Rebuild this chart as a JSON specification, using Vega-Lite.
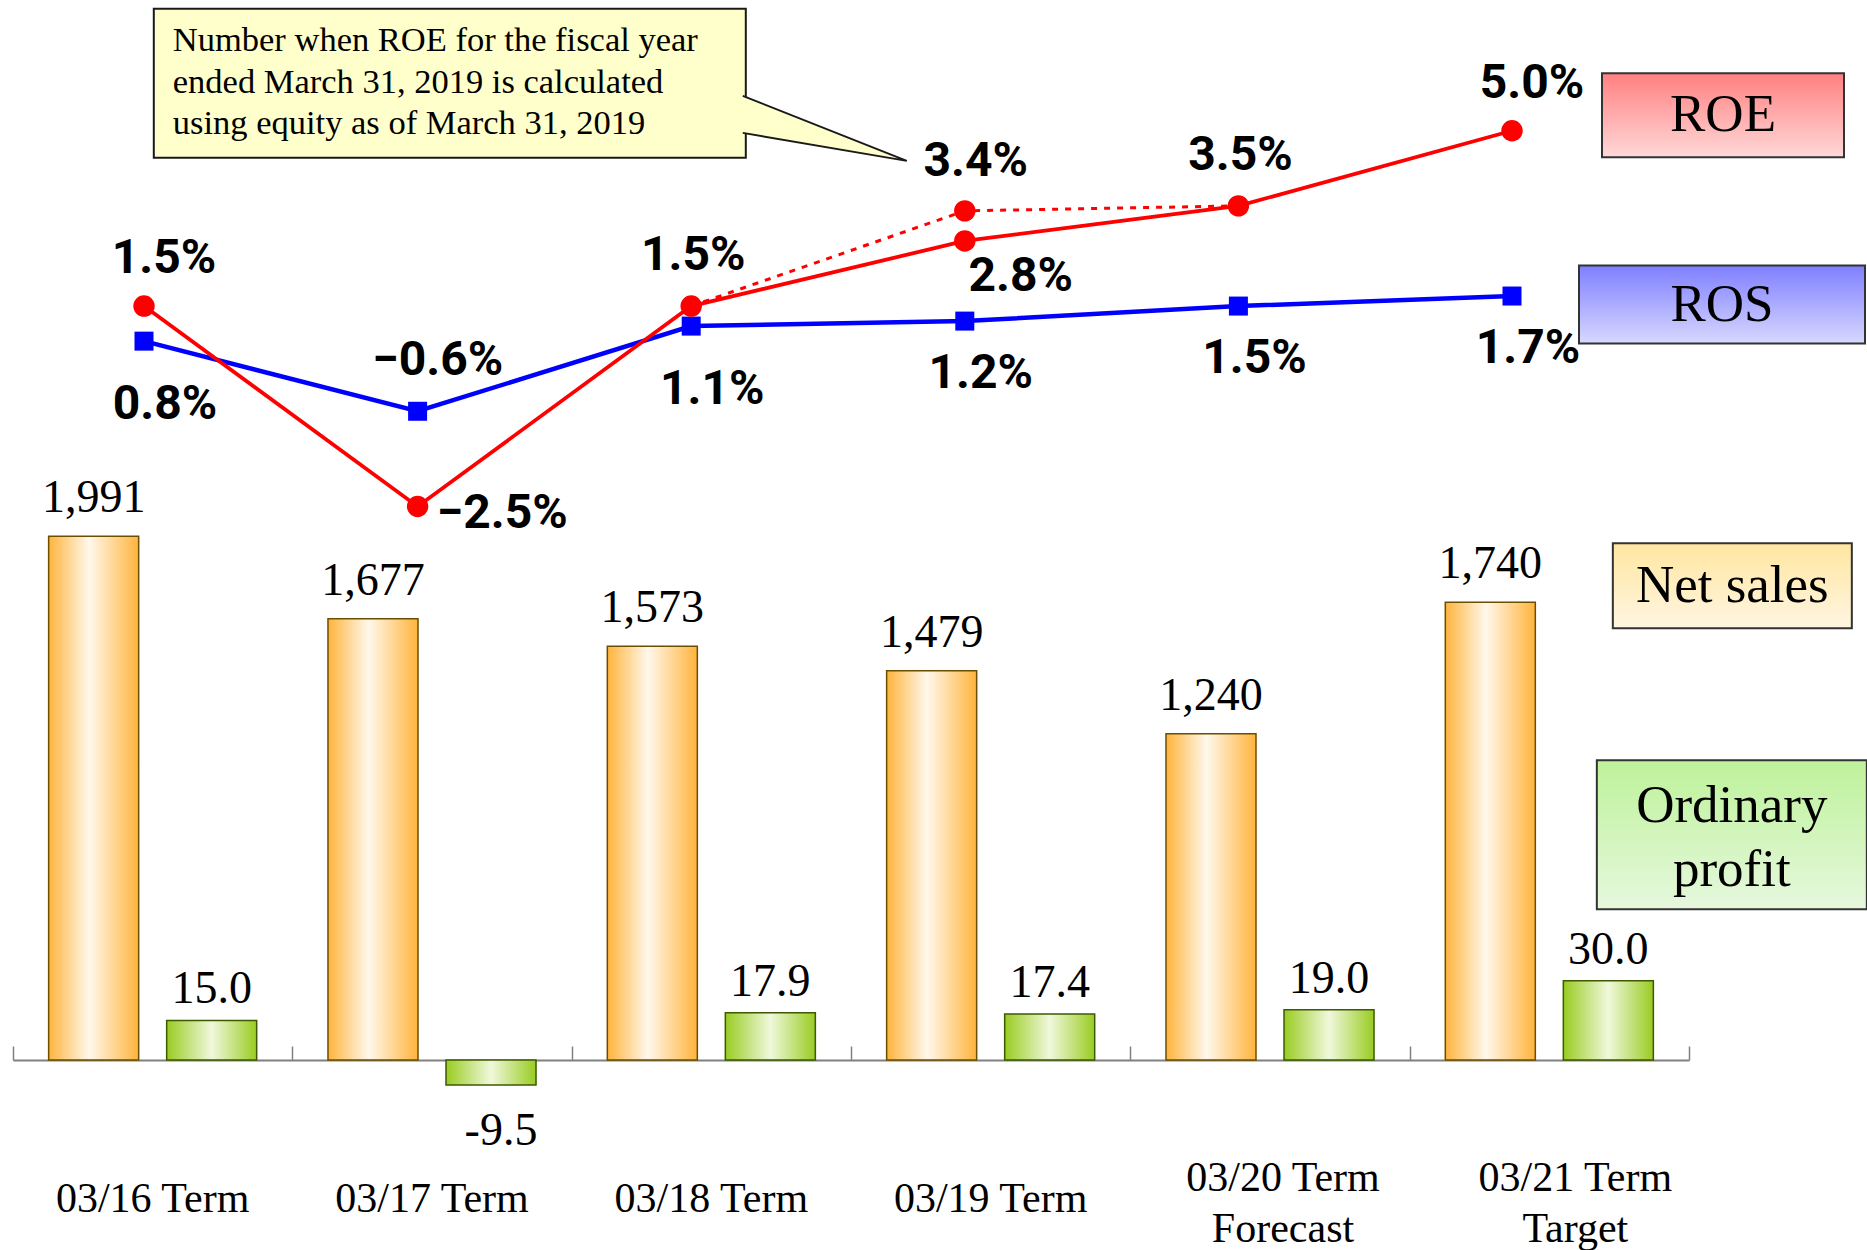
{
  "$schema": "https://vega.github.io/schema/vega-lite/v6.json",
  "width": 1867,
  "height": 1250,
  "autosize": {"type": "none"},
  "padding": 0,
  "background": "white",
  "config": {"view": {"stroke": null}, "font": "Liberation Serif"},
  "datasets": {
    "results": [
      {"term": "03/16 Term", "net_sales": 1991, "ordinary_profit": 15.0, "roe": 0.015, "ros": 0.008},
      {"term": "03/17 Term", "net_sales": 1677, "ordinary_profit": -9.5, "roe": -0.025, "ros": -0.006},
      {"term": "03/18 Term", "net_sales": 1573, "ordinary_profit": 17.9, "roe": 0.015, "ros": 0.011},
      {"term": "03/19 Term", "net_sales": 1479, "ordinary_profit": 17.4, "roe": 0.028, "ros": 0.012},
      {"term": "03/20 Term Forecast", "net_sales": 1240, "ordinary_profit": 19.0, "roe": 0.035, "ros": 0.015},
      {"term": "03/21 Term Target", "net_sales": 1740, "ordinary_profit": 30.0, "roe": 0.05, "ros": 0.017}
    ],
    "roe_restated": [
      {"term": "03/18 Term", "roe": 0.015},
      {"term": "03/19 Term", "roe": 0.034},
      {"term": "03/20 Term Forecast", "roe": 0.035}
    ]
  },
  "data": {"name": "results"},
  "layer": [
    {
      "encoding": {
        "x": {
          "field": "term", "type": "nominal",
          "scale": {
            "domain": ["03/16 Term", "03/17 Term", "03/18 Term", "03/19 Term", "03/20 Term Forecast", "03/21 Term Target"],
            "range": [13, 1689], "paddingInner": 0, "paddingOuter": 0
          },
          "axis": {
            "title": null, "orient": "bottom", "offset": -190, "grid": false, "labels": false,
            "domainColor": "#808080", "domainWidth": 2,
            "ticks": true, "tickBand": "extent", "tickColor": "#808080", "tickWidth": 1.5, "tickSize": -14
          }
        },
        "y": {"field": "net_sales", "type": "quantitative", "scale": {"domain": [-722.2, 4028.9], "nice": false}, "axis": null}
      },
      "layer": [
        {
          "mark": {
            "type": "bar", "stroke": "#6b4e00", "strokeWidth": 1.5,
            "fill": {"gradient": "linear", "x1": 0, "y1": 0, "x2": 1, "y2": 0,
              "stops": [{"offset": 0, "color": "#FFB43C"}, {"offset": 0.45, "color": "#FFF8EC"}, {"offset": 1, "color": "#FFB43C"}]}
          },
          "encoding": {
            "xOffset": {"datum": "Net sales", "scale": {"domain": ["Net sales", "Ordinary profit"], "paddingInner": 0.2373, "paddingOuter": 0.302}},
            "y2": {"datum": 0}
          }
        },
        {
          "mark": {"type": "text", "font": "Liberation Serif", "fontSize": 46, "baseline": "middle", "dy": -38, "color": "black"},
          "encoding": {"xOffset": {"datum": "Net sales"}, "text": {"field": "net_sales", "format": ",d"}}
        },
        {
          "transform": [{"filter": "length(datum.term) <= 10"}],
          "mark": {"type": "text", "font": "Liberation Serif", "fontSize": 42, "baseline": "middle", "dy": 139, "color": "black"},
          "encoding": {"y": {"datum": 0}, "text": {"field": "term"}}
        },
        {
          "transform": [
            {"filter": "datum.term == '03/20 Term Forecast'"},
            {"calculate": "[slice(datum.term, 0, 10), slice(datum.term, 11)]", "as": "term_lines"}
          ],
          "mark": {"type": "text", "font": "Liberation Serif", "fontSize": 42, "lineHeight": 51, "baseline": "middle", "dx": 13, "dy": 118, "color": "black"},
          "encoding": {"y": {"datum": 0}, "text": {"field": "term_lines"}}
        },
        {
          "transform": [
            {"filter": "datum.term == '03/21 Term Target'"},
            {"calculate": "[slice(datum.term, 0, 10), slice(datum.term, 11)]", "as": "term_lines"}
          ],
          "mark": {"type": "text", "font": "Liberation Serif", "fontSize": 42, "lineHeight": 51, "baseline": "middle", "dx": 26, "dy": 118, "color": "black"},
          "encoding": {"y": {"datum": 0}, "text": {"field": "term_lines"}}
        },
        {
          "transform": [{"filter": "datum.term == '03/21 Term Target'"}],
          "mark": {
            "type": "point", "filled": true, "opacity": 1, "shape": "M-1,-0.3556H1V0.3556H-1Z", "size": 57121,
            "xOffset": 183, "yOffset": -16.5, "stroke": "#333333", "strokeWidth": 2,
            "fill": {"gradient": "linear", "x1": 0, "y1": 0, "x2": 0, "y2": 1,
              "stops": [{"offset": 0, "color": "#FFE6A0"}, {"offset": 1, "color": "#FFF6E2"}]}
          }
        },
        {
          "transform": [{"filter": "datum.term == '03/21 Term Target'"}],
          "mark": {"type": "text", "text": "Net sales", "font": "Liberation Serif", "fontSize": 53, "baseline": "middle", "dx": 183, "dy": -16.5, "color": "black"}
        }
      ]
    },
    {
      "encoding": {
        "x": {
          "field": "term", "type": "nominal",
          "scale": {
            "domain": ["03/16 Term", "03/17 Term", "03/18 Term", "03/19 Term", "03/20 Term Forecast", "03/21 Term Target"],
            "range": [13, 1689], "paddingInner": 0, "paddingOuter": 0
          },
          "axis": null
        },
        "y": {"field": "ordinary_profit", "type": "quantitative", "scale": {"domain": [-71.97, 401.5], "nice": false}, "axis": null}
      },
      "layer": [
        {
          "mark": {
            "type": "bar", "stroke": "#3d5a00", "strokeWidth": 1.5,
            "fill": {"gradient": "linear", "x1": 0, "y1": 0, "x2": 1, "y2": 0,
              "stops": [{"offset": 0, "color": "#99CC22"}, {"offset": 0.5, "color": "#F0F8DC"}, {"offset": 1, "color": "#99CC22"}]}
          },
          "encoding": {
            "xOffset": {"datum": "Ordinary profit", "scale": {"domain": ["Net sales", "Ordinary profit"], "paddingInner": 0.2373, "paddingOuter": 0.302}},
            "y2": {"datum": 0}
          }
        },
        {
          "transform": [
            {"filter": "datum.ordinary_profit >= 0"},
            {"calculate": "format(datum.ordinary_profit, '.1f')", "as": "op_label"}
          ],
          "mark": {"type": "text", "font": "Liberation Serif", "fontSize": 46, "baseline": "middle", "dy": -31, "color": "black"},
          "encoding": {"xOffset": {"datum": "Ordinary profit"}, "text": {"field": "op_label"}}
        },
        {
          "transform": [
            {"filter": "datum.ordinary_profit < 0"},
            {"calculate": "'-' + format(-datum.ordinary_profit, '.1f')", "as": "op_label"}
          ],
          "mark": {"type": "text", "font": "Liberation Serif", "fontSize": 46, "baseline": "middle", "dx": 10, "dy": 46, "color": "black"},
          "encoding": {"xOffset": {"datum": "Ordinary profit"}, "text": {"field": "op_label"}}
        },
        {
          "transform": [{"filter": "datum.term == '03/21 Term Target'"}],
          "mark": {
            "type": "point", "filled": true, "opacity": 1, "shape": "M-1,-0.5519H1V0.5519H-1Z", "size": 72900,
            "xOffset": 182.5, "yOffset": -146, "stroke": "#333333", "strokeWidth": 2,
            "fill": {"gradient": "linear", "x1": 0, "y1": 0, "x2": 0, "y2": 1,
              "stops": [{"offset": 0, "color": "#BEF29A"}, {"offset": 1, "color": "#E6F8DE"}]}
          }
        },
        {
          "transform": [{"filter": "datum.term == '03/21 Term Target'"}],
          "mark": {"type": "text", "text": ["Ordinary", "profit"], "lineHeight": 64, "font": "Liberation Serif", "fontSize": 53, "baseline": "middle", "dx": 182.5, "dy": -174.5, "color": "black"}
        }
      ]
    },
    {
      "encoding": {
        "x": {
          "field": "term", "type": "nominal",
          "scale": {
            "type": "point", "padding": 0,
            "domain": ["03/16 Term", "03/17 Term", "03/18 Term", "03/19 Term", "03/20 Term Forecast", "03/21 Term Target"],
            "range": [144, 1512]
          },
          "axis": null
        }
      },
      "layer": [
        {
          "mark": {"type": "line", "color": "#0000FF", "strokeWidth": 4.5},
          "encoding": {"y": {"field": "ros", "type": "quantitative", "scale": {"domain": [-0.17341, 0.07609], "nice": false, "zero": false}, "axis": null}}
        },
        {
          "mark": {"type": "point", "shape": "square", "filled": true, "opacity": 1, "size": 361, "color": "#0000FF"},
          "encoding": {"y": {"field": "ros", "type": "quantitative"}}
        },
        {
          "data": {"name": "roe_restated"},
          "mark": {"type": "line", "color": "#FF0000", "strokeWidth": 3, "strokeDash": [6, 7]},
          "encoding": {"y": {"field": "roe", "type": "quantitative"}}
        },
        {
          "mark": {"type": "line", "color": "#FF0000", "strokeWidth": 3.8},
          "encoding": {"y": {"field": "roe", "type": "quantitative"}}
        },
        {
          "mark": {"type": "point", "shape": "circle", "filled": true, "opacity": 1, "size": 460, "color": "#FF0000"},
          "encoding": {"y": {"field": "roe", "type": "quantitative"}}
        },
        {
          "data": {"name": "roe_restated"},
          "transform": [{"filter": "datum.term == '03/19 Term'"}],
          "mark": {"type": "point", "shape": "circle", "filled": true, "opacity": 1, "size": 460, "color": "#FF0000"},
          "encoding": {"y": {"field": "roe", "type": "quantitative"}}
        },
        {
          "transform": [{"filter": {"field": "term", "oneOf": ["03/16 Term", "03/21 Term Target"]}}],
          "mark": {"type": "text", "font": "Roboto", "fontWeight": "bold", "fontSize": 48, "baseline": "middle", "dx": 20, "dy": -47, "color": "black"},
          "encoding": {"y": {"field": "roe", "type": "quantitative"}, "text": {"field": "roe", "format": ".1%"}}
        },
        {
          "transform": [{"filter": {"field": "term", "oneOf": ["03/18 Term", "03/20 Term Forecast"]}}],
          "mark": {"type": "text", "font": "Roboto", "fontWeight": "bold", "fontSize": 48, "baseline": "middle", "dx": 2, "dy": -50, "color": "black"},
          "encoding": {"y": {"field": "roe", "type": "quantitative"}, "text": {"field": "roe", "format": ".1%"}}
        },
        {
          "transform": [{"filter": "datum.term == '03/17 Term'"}],
          "mark": {"type": "text", "font": "Roboto", "fontWeight": "bold", "fontSize": 48, "baseline": "middle", "align": "left", "dx": 19, "dy": 8, "color": "black"},
          "encoding": {"y": {"field": "roe", "type": "quantitative"}, "text": {"field": "roe", "format": ".1%"}}
        },
        {
          "transform": [{"filter": "datum.term == '03/19 Term'"}],
          "mark": {"type": "text", "font": "Roboto", "fontWeight": "bold", "fontSize": 48, "baseline": "middle", "dx": 56, "dy": 36, "color": "black"},
          "encoding": {"y": {"field": "roe", "type": "quantitative"}, "text": {"field": "roe", "format": ".1%"}}
        },
        {
          "data": {"name": "roe_restated"},
          "transform": [{"filter": "datum.term == '03/19 Term'"}],
          "mark": {"type": "text", "font": "Roboto", "fontWeight": "bold", "fontSize": 48, "baseline": "middle", "dx": 11, "dy": -49, "color": "black"},
          "encoding": {"y": {"field": "roe", "type": "quantitative"}, "text": {"field": "roe", "format": ".1%"}}
        },
        {
          "transform": [{"filter": {"field": "term", "oneOf": ["03/16 Term", "03/18 Term"]}}],
          "mark": {"type": "text", "font": "Roboto", "fontWeight": "bold", "fontSize": 48, "baseline": "middle", "dx": 21, "dy": 64, "color": "black"},
          "encoding": {"y": {"field": "ros", "type": "quantitative"}, "text": {"field": "ros", "format": ".1%"}}
        },
        {
          "transform": [{"filter": {"field": "term", "oneOf": ["03/19 Term", "03/20 Term Forecast", "03/21 Term Target"]}}],
          "mark": {"type": "text", "font": "Roboto", "fontWeight": "bold", "fontSize": 48, "baseline": "middle", "dx": 16, "dy": 53, "color": "black"},
          "encoding": {"y": {"field": "ros", "type": "quantitative"}, "text": {"field": "ros", "format": ".1%"}}
        },
        {
          "transform": [{"filter": "datum.term == '03/17 Term'"}],
          "mark": {"type": "text", "font": "Roboto", "fontWeight": "bold", "fontSize": 48, "baseline": "middle", "dx": 20, "dy": -50, "color": "black"},
          "encoding": {"y": {"field": "ros", "type": "quantitative"}, "text": {"field": "ros", "format": ".1%"}}
        },
        {
          "transform": [{"filter": "datum.term == '03/21 Term Target'"}],
          "mark": {
            "type": "point", "filled": true, "opacity": 1, "shape": "M-1,-0.3471H1V0.3471H-1Z", "size": 58564,
            "xOffset": 211, "yOffset": -15.5, "stroke": "#333333", "strokeWidth": 2,
            "fill": {"gradient": "linear", "x1": 0, "y1": 0, "x2": 0, "y2": 1,
              "stops": [{"offset": 0, "color": "#FF8080"}, {"offset": 1, "color": "#FFD8D8"}]}
          },
          "encoding": {"y": {"field": "roe", "type": "quantitative"}}
        },
        {
          "transform": [{"filter": "datum.term == '03/21 Term Target'"}],
          "mark": {"type": "text", "text": "ROE", "font": "Liberation Serif", "fontSize": 53, "baseline": "middle", "dx": 211, "dy": -15.5, "color": "black"},
          "encoding": {"y": {"field": "roe", "type": "quantitative"}}
        },
        {
          "transform": [{"filter": "datum.term == '03/21 Term Target'"}],
          "mark": {
            "type": "point", "filled": true, "opacity": 1, "shape": "M-1,-0.2727H1V0.2727H-1Z", "size": 81796,
            "xOffset": 210, "yOffset": 8.5, "stroke": "#333333", "strokeWidth": 2,
            "fill": {"gradient": "linear", "x1": 0, "y1": 0, "x2": 0, "y2": 1,
              "stops": [{"offset": 0, "color": "#7F7FFF"}, {"offset": 1, "color": "#D8D8FF"}]}
          },
          "encoding": {"y": {"field": "ros", "type": "quantitative"}}
        },
        {
          "transform": [{"filter": "datum.term == '03/21 Term Target'"}],
          "mark": {"type": "text", "text": "ROS", "font": "Liberation Serif", "fontSize": 53, "baseline": "middle", "dx": 210, "dy": 8.5, "color": "black"},
          "encoding": {"y": {"field": "ros", "type": "quantitative"}}
        },
        {
          "data": {"name": "roe_restated"},
          "transform": [{"filter": "datum.term == '03/19 Term'"}],
          "mark": {
            "type": "point", "filled": true, "opacity": 1, "shape": "M-1,-0.2517H1V0.2517H-1Z", "size": 350464,
            "xOffset": -515, "yOffset": -127.5, "stroke": "#1a1a1a", "strokeWidth": 2, "fill": "#FFFFCC"
          },
          "encoding": {"y": {"field": "roe", "type": "quantitative"}}
        },
        {
          "data": {"name": "roe_restated"},
          "transform": [{"filter": "datum.term == '03/19 Term'"}],
          "mark": {
            "type": "point", "filled": true, "opacity": 1, "shape": "M-0.888,-0.46L-0.232,-0.2L-0.888,-0.312", "size": 250000,
            "stroke": "#1a1a1a", "strokeWidth": 2, "fill": "#FFFFCC"
          },
          "encoding": {"y": {"field": "roe", "type": "quantitative"}}
        },
        {
          "data": {"name": "roe_restated"},
          "transform": [{"filter": "datum.term == '03/19 Term'"}],
          "mark": {
            "type": "text",
            "text": ["Number when ROE for the fiscal year", "ended March 31, 2019 is calculated", "using equity as of March 31, 2019"],
            "font": "Liberation Serif", "fontSize": 34.5, "lineHeight": 41.5, "align": "left", "baseline": "middle",
            "dx": -792, "dy": -169.5, "color": "black"
          },
          "encoding": {"y": {"field": "roe", "type": "quantitative"}}
        }
      ]
    }
  ],
  "resolve": {"scale": {"x": "independent", "y": "independent", "xOffset": "independent"}}
}
